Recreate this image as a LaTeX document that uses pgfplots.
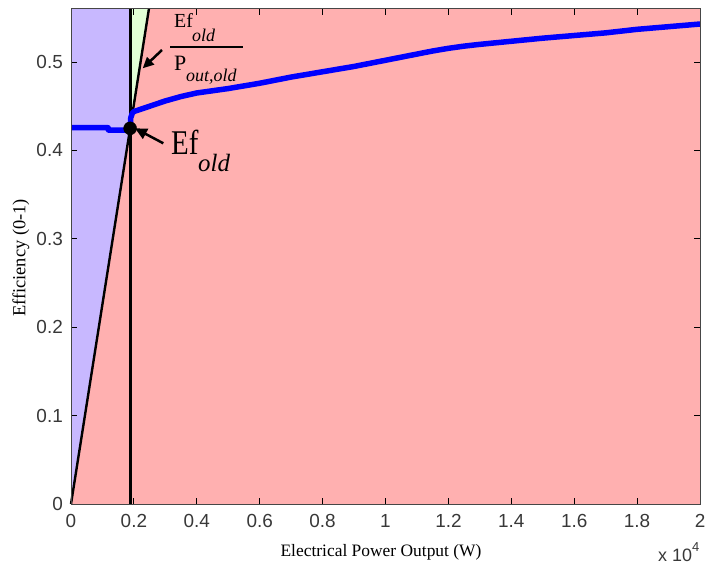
\documentclass[border=0pt]{standalone}
\usepackage{fontspec}
\setmainfont{Liberation Serif}
\newfontfamily\ticksans{Liberation Sans}
\usepackage{graphicx}
\usepackage{pgfplots}
\pgfplotsset{compat=1.18}
\usepackage{pgfplotstable}
\usetikzlibrary{arrows.meta}

\definecolor{regionpink}{RGB}{255,176,176}
\definecolor{regionpurple}{RGB}{200,184,255}
\definecolor{regiongreen}{RGB}{226,255,214}
\definecolor{framegray}{RGB}{70,70,70}

% efficiency versus electrical power output
\pgfplotstableread{
P      Ef
0      0.4257
1180   0.4257
1190   0.4230
1880   0.4230
1900   0.4370
1950   0.4420
2000   0.4440
2500   0.4500
3000   0.4560
3500   0.4610
4000   0.4650
5000   0.4700
6000   0.4760
7000   0.4830
8000   0.4890
9000   0.4950
10000  0.5020
11000  0.5090
11500  0.5125
12000  0.5155
12500  0.5180
13000  0.5200
14000  0.5235
15000  0.5270
16000  0.5300
17000  0.5330
18000  0.5370
19000  0.5400
20000  0.5430
}\effdata

\begin{document}
\begin{tikzpicture}
\begin{axis}[
  name=ax, at={(0,0)}, anchor=south west,
  scale only axis, width=629bp, height=495bp,
  xmin=0, xmax=20000, ymin=0, ymax=0.56,
  axis on top,
  axis background/.style={fill=regionpink},
  axis line style={framegray, line width=1pt},
  tick style={black, line width=0.9pt},
  major tick length=6bp,
  xtick={0,2000,4000,6000,8000,10000,12000,14000,16000,18000,20000},
  xticklabels={0,0.2,0.4,0.6,0.8,1,1.2,1.4,1.6,1.8,2},
  ytick={0,0.1,0.2,0.3,0.4,0.5},
  yticklabels={0,0.1,0.2,0.3,0.4,0.5},
  scaled x ticks=false,
  /pgf/number format/assume math mode=true,
  tick label style={font=\ticksans\fontsize{19}{19}\selectfont, text=black!78, inner sep=0pt},
  xticklabel style={anchor=north, yshift=-10bp},
  yticklabel style={anchor=east, xshift=-8bp},
  clip=false,
]
% operating regions
\addplot[fill=regionpurple, draw=none] coordinates {(0,0) (1880,0.425) (1880,0.56) (0,0.56)} -- cycle;
\addplot[fill=regiongreen, draw=none] coordinates {(1880,0.425) (2477,0.56) (1880,0.56)} -- cycle;
% constant Ef/P line and rated power
\addplot[black, line width=2.4bp] coordinates {(0,0) (2477,0.56)};
\addplot[black, line width=2.8bp] coordinates {(1880,0) (1880,0.56)};
% efficiency curve
\addplot[blue, line width=5.5bp, line join=round] table[x=P, y=Ef] {\effdata};
% old operating point
\addplot[only marks, mark=*, mark size=6.5bp, black] coordinates {(1880,0.425)};
\end{axis}

\begin{scope}[shift={(-71bp,504bp)}, x=1bp, y=-1bp]
  % axis labels
  \node[anchor=base, font=\fontsize{17.5}{17.5}\selectfont] at (381,556.7) {Electrical Power Output (W)};
  \node[rotate=90, anchor=center, font=\fontsize{18.5}{18.5}\selectfont] at (21,258) {Efficiency (0-1)};
  \node[anchor=base west, inner sep=0pt, font=\ticksans\fontsize{18}{18}\selectfont, text=black!78] at (658,561.7)
    {x 10\raisebox{10bp}{\fontsize{13}{13}\selectfont 4}};
  % slope annotation
  \node[anchor=base west, inner sep=0pt, font=\fontsize{20}{20}\selectfont] at (174,28) {Ef};
  \node[anchor=base west, inner sep=0pt, font=\fontsize{18}{18}\selectfont\itshape] at (192,42) {old};
  \draw[line width=2bp] (170,47.3) -- (243,47.3);
  \node[anchor=base west, inner sep=0pt, font=\fontsize{22}{22}\selectfont] at (174,71) {P};
  \node[anchor=base west, inner sep=0pt, font=\fontsize{18}{18}\selectfont\itshape] at (186,82) {out,old};
  \draw[line width=2.5bp, -{Triangle[length=11bp,width=10bp]}] (162,50) -- (142.7,68.3);
  % operating point annotation
  \node[anchor=base west, inner sep=0pt, font=\fontsize{29}{29}\selectfont] at (171,155) {\scalebox{1}[1.2]{Ef}};
  \node[anchor=base west, inner sep=0pt, font=\fontsize{25}{25}\selectfont\itshape] at (198,172) {old};
  \draw[line width=2.5bp, -{Triangle[length=12bp,width=11bp]}] (163.3,143.3) -- (135,128.3);
  \pgfresetboundingbox
  \path (0,0) rectangle (706,571);
\end{scope}
\end{tikzpicture}
\end{document}
